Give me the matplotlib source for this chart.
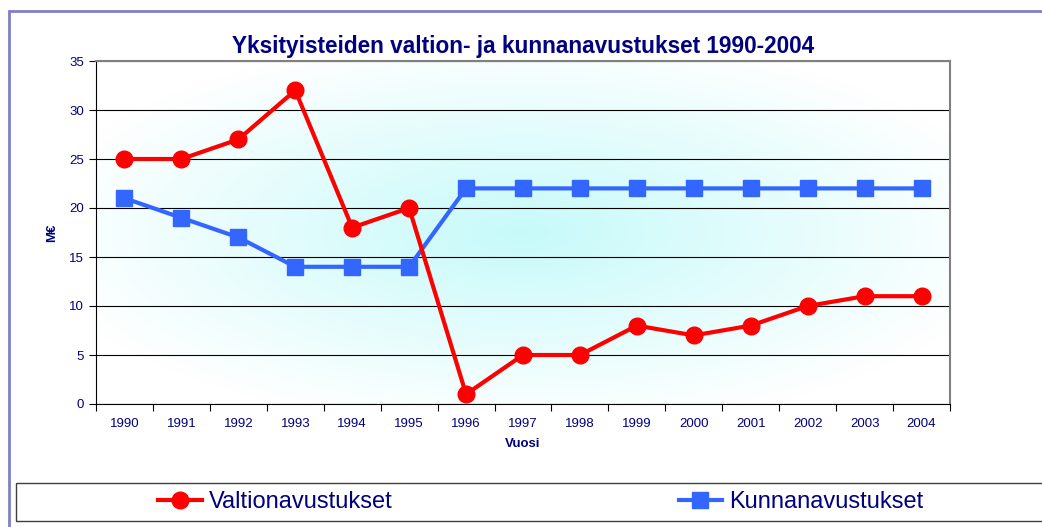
import numpy as np
import matplotlib.pyplot as plt
from matplotlib.patches import Rectangle
from matplotlib.lines import Line2D

plt.rcParams['font.family'] = ['Liberation Sans', 'DejaVu Sans']

years = ['1990', '1991', '1992', '1993', '1994', '1995', '1996', '1997',
         '1998', '1999', '2000', '2001', '2002', '2003', '2004']
valtion = [25, 25, 27, 32, 18, 20, 1, 5, 5, 8, 7, 8, 10, 11, 11]
kunnan = [21, 19, 17, 14, 14, 14, 22, 22, 22, 22, 22, 22, 22, 22, 22]

navy = '#000080'
fig = plt.figure(figsize=(10.42, 5.27), dpi=100)

# outer border
fig.patches.append(Rectangle((9 / 1042, -0.05), 1.1, 1 - 11 / 527 + 0.05,
                             transform=fig.transFigure, fill=False,
                             edgecolor='#8080c8', linewidth=2))

ax = fig.add_axes([96 / 1042, 1 - 404 / 527, 854 / 1042, 343 / 527])

# radial cyan gradient behind the data
gx, gy = np.meshgrid(np.linspace(-1, 1, 300), np.linspace(-1, 1, 200))
r = np.clip(np.sqrt(gx ** 2 + gy ** 2) / 1.15, 0, 1)
c0 = np.array([0.78, 0.98, 0.98])
c1 = np.array([1.0, 1.0, 1.0])
img = c0[None, None, :] * (1 - r[..., None]) + c1[None, None, :] * r[..., None]
ax.imshow(img, extent=[0, 1, 0, 1], transform=ax.transAxes, aspect='auto',
          zorder=0, interpolation='bilinear')

x = np.arange(len(years))
ax.plot(x, kunnan, color='#3366ff', lw=3, marker='s', ms=11.5, zorder=3,
        label='Kunnanavustukset')
ax.plot(x, valtion, color='#ff0000', lw=3, marker='o', ms=12, zorder=4,
        label='Valtionavustukset')

ax.set_xlim(-0.5, len(years) - 0.5)
ax.set_ylim(0, 35)
ax.set_yticks(range(0, 36, 5))
ax.yaxis.grid(True, color='black', lw=0.8)
ax.set_axisbelow(True)

ax.set_xticks(np.arange(-0.5, len(years), 1))
ax.set_xticklabels([])
ax.set_xticks(x, minor=True)
ax.set_xticklabels(years, minor=True)
ax.tick_params(axis='x', which='major', direction='out', length=5, color='black')
ax.tick_params(axis='x', which='minor', length=0, pad=10, labelsize=9.5,
               labelcolor=navy)
ax.tick_params(axis='y', direction='out', length=5, labelsize=9.5,
               labelcolor=navy)

for s in ['top', 'right']:
    ax.spines[s].set_color('#808080')
    ax.spines[s].set_linewidth(1.5)
for s in ['left', 'bottom']:
    ax.spines[s].set_color('black')

ax.set_title('Yksityisteiden valtion- ja kunnanavustukset 1990-2004',
             fontsize=16.3, fontweight='bold', color=navy, pad=6)
ax.set_ylabel('M€', fontsize=9.5, fontweight='bold', color=navy, labelpad=8)
ax.set_xlabel('Vuosi', fontsize=9.5, fontweight='bold', color=navy, labelpad=6)

# legend box
fig.patches.append(Rectangle((16 / 1042, 1 - 521 / 527), 1.1, 38 / 527,
                             transform=fig.transFigure, fill=False,
                             edgecolor='#404040', linewidth=1))
handles = [Line2D([], [], color='#ff0000', lw=3, marker='o', ms=12),
           Line2D([], [], color='#3366ff', lw=3, marker='s', ms=11.5)]
fig.legend(handles, ['Valtionavustukset', 'Kunnanavustukset'], ncol=2,
           loc='center', bbox_to_anchor=(541 / 1042, 1 - 502 / 527),
           frameon=False, fontsize=17, handlelength=1.85, handletextpad=0.3,
           columnspacing=12.1, labelcolor=navy)

fig.savefig('out.png', dpi=100)
